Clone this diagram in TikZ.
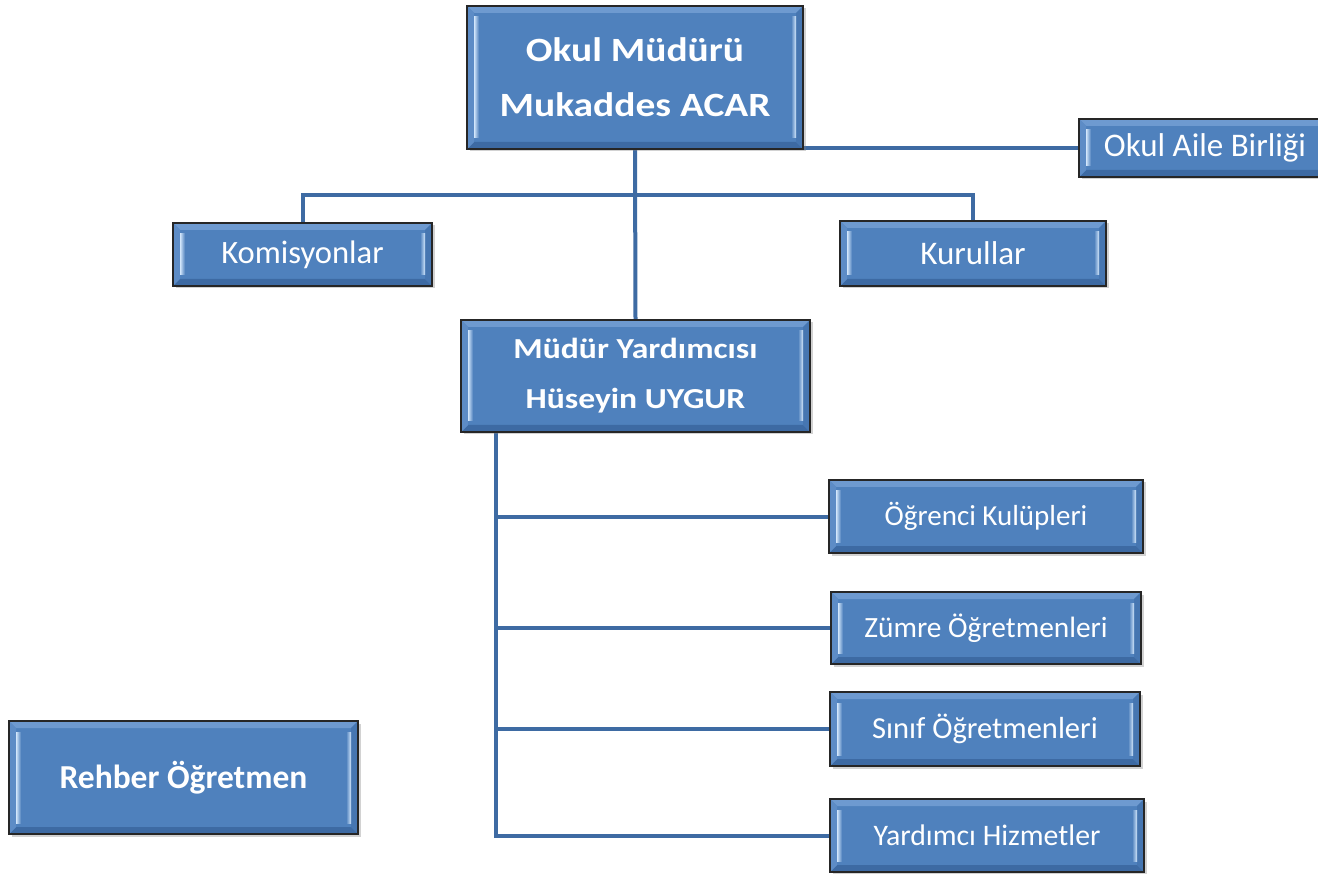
\documentclass[tikz,border=0pt]{standalone}
\usepackage{fontspec}
\setmainfont{Carlito}
\newfontfamily\widefont[FakeStretch=1.16]{Carlito}
\usetikzlibrary{shadows,calc}
\pgfdeclarelayer{background}
\pgfsetlayers{background,main}
\definecolor{boxfill}{HTML}{4F81BD}
\definecolor{linecol}{HTML}{3E6BA3}
\definecolor{hilite}{HTML}{D2E6FB}
\definecolor{bevtop}{HTML}{6E9AD0}
\definecolor{bevbot}{HTML}{3D6AA3}
\definecolor{bevleft}{HTML}{5D8CC6}
\definecolor{bevright}{HTML}{4676B1}
\tikzset{
  x=1pt, y=-1pt,
  orgbox/.style={draw=black!85, line width=1.6pt, fill=boxfill, text=white,
    align=center, inner sep=0pt,
    drop shadow={shadow xshift=2.5pt, shadow yshift=-2.5pt, opacity=0.35},
    path picture={
      \coordinate (nw) at (path picture bounding box.north west);
      \coordinate (se) at (path picture bounding box.south east);
      \coordinate (ne) at (nw -| se);
      \coordinate (sw) at (se -| nw);
      \fill[bevtop] (nw) -- (ne) -- ($(ne)+(-7pt,-7pt)$) -- ($(nw)+(7pt,-7pt)$) -- cycle;
      \fill[bevbot] (sw) -- (se) -- ($(se)+(-7pt,7pt)$) -- ($(sw)+(7pt,7pt)$) -- cycle;
      \fill[bevleft] (nw) -- ($(nw)+(7pt,-7pt)$) -- ($(sw)+(7pt,7pt)$) -- (sw) -- cycle;
      \fill[bevright] (ne) -- ($(ne)+(-7pt,-7pt)$) -- ($(se)+(-7pt,7pt)$) -- (se) -- cycle;
      \shade[left color=hilite, right color=boxfill] ($(nw)+(7pt,-11pt)$) rectangle ($(sw)+(12pt,11pt)$);
      \shade[left color=boxfill, right color=hilite] ($(ne)+(-12pt,-11pt)$) rectangle ($(se)+(-7pt,11pt)$);
    }},
  conn/.style={draw=linecol, line width=4pt}
}
\begin{document}
\begin{tikzpicture}
\useasboundingbox (0,0) rectangle (1318,874);
\node[orgbox, minimum width=336pt, minimum height=143pt, font=\widefont\bfseries\fontsize{34}{55}\selectfont] (mudur) at (635,77.5) {Okul Müdürü\\Mukaddes ACAR};
\node[orgbox, minimum width=252pt, minimum height=58pt, font=\fontsize{33}{36}\selectfont] (aile) at (1205,148) {Okul Aile Birliği};
\node[orgbox, minimum width=259pt, minimum height=63pt, font=\fontsize{32.6}{36}\selectfont] (komis) at (302.5,254.5) {Komisyonlar};
\node[orgbox, minimum width=266pt, minimum height=65pt, font=\fontsize{33}{36}\selectfont] (kurul) at (973,253.5) {Kurullar};
\node[orgbox, minimum width=349pt, minimum height=112pt, font=\widefont\bfseries\fontsize{29}{50}\selectfont] (yard) at (635.5,376) {Müdür Yardımcısı\\Hüseyin UYGUR};
\node[orgbox, minimum width=314pt, minimum height=73pt, font=\fontsize{29}{34}\selectfont] (ogr) at (986,516.5) {Öğrenci Kulüpleri};
\node[orgbox, minimum width=310pt, minimum height=72pt, font=\fontsize{29.4}{34}\selectfont] (zumre) at (986,628) {Zümre Öğretmenleri};
\node[orgbox, minimum width=310pt, minimum height=74pt, font=\fontsize{30.5}{34}\selectfont] (sinif) at (985,729) {Sınıf Öğretmenleri};
\node[orgbox, minimum width=314pt, minimum height=73pt, font=\fontsize{29.8}{34}\selectfont] (yhiz) at (987,835.5) {Yardımcı Hizmetler};
\node[orgbox, minimum width=349pt, minimum height=113pt, font=\bfseries\fontsize{33.5}{36}\selectfont] (rehber) at (183.5,777.5) {Rehber Öğretmen};
\begin{pgfonlayer}{background}
  \fill[white] (0,0) rectangle (1318,874);
  \draw[conn] (mudur.south) -- (yard.north);
  \draw[conn] (mudur.south |- aile.west) -- (aile.west);
  \draw[conn] (komis.north) -- ++(0,-27) -| (kurul.north);
  \coordinate (yb) at ([xshift=36pt]yard.south west);
  \draw[conn] (yb) |- (yhiz.west);
  \draw[conn] (yb |- ogr.west) -- (ogr.west);
  \draw[conn] (yb |- zumre.west) -- (zumre.west);
  \draw[conn] (yb |- sinif.west) -- (sinif.west);
\end{pgfonlayer}
\end{tikzpicture}
\end{document}
